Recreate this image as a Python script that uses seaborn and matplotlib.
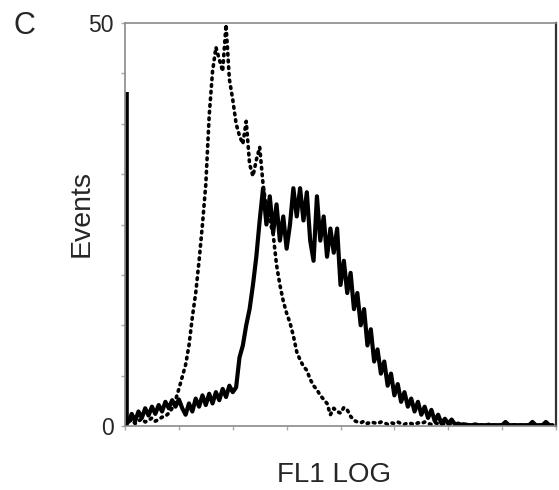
import matplotlib
matplotlib.use("Agg")
import matplotlib.pyplot as plt
import numpy as np
import pandas as pd
import seaborn as sns

# FL1 channel (log scale, 256 channels, every 2nd channel shown)
channels = list(range(0, 256, 2))

# Control histogram (dotted)
control = [0.0, 0.5, 0.8, 0.3, 0.6, 0.9, 0.5, 0.7, 1.0, 0.6, 0.8, 1.1,
           1.2, 1.6, 2.2, 3.2, 4.6, 6.1, 7.6, 10.0, 13.5, 16.5, 20.5, 25.0,
           30.0, 38.5, 44.0, 47.0, 45.5, 44.0, 49.8, 43.0, 40.5, 37.5, 36.0, 35.0,
           37.8, 32.5, 31.0, 33.0, 34.6, 30.0, 27.0, 25.5, 23.8, 20.0, 17.5, 15.5,
           14.0, 12.8, 11.2, 9.2, 8.2, 7.4, 6.9, 5.8, 5.0, 4.5, 3.8, 3.3,
           2.8, 1.4, 2.2, 1.8, 1.6, 2.3, 2.0, 1.2, 0.7, 0.5, 0.4, 0.6,
           0.3, 0.5, 0.4, 0.3, 0.5, 0.4, 0.2, 0.4, 0.3, 0.5, 0.3, 0.2,
           0.4, 0.3, 0.2, 0.4, 0.3, 0.5, 0.3, 0.2, 0.4, 0.3, 0.2, 0.3,
           0.2, 0.3, 0.2, 0.1, 0.2, 0.3, 0.1, 0.2, 0.1, 0.2, 0.1, 0.1,
           0.2, 0.1, 0.1, 0.2, 0.1, 0.1, 0.1, 0.2, 0.1, 0.1, 0.1, 0.1,
           0.1, 0.2, 0.1, 0.1, 0.1, 0.1, 0.2, 0.1]

# Stained histogram (solid); first channel holds the off-scale spike
stained = [41.4, 0.5, 1.5, 0.6, 1.8, 1.0, 2.2, 1.3, 2.4, 1.5, 2.6, 1.8,
           3.0, 2.2, 3.2, 2.4, 3.3, 2.2, 1.4, 2.8, 1.8, 3.4, 2.4, 3.8,
           2.6, 4.0, 2.8, 4.2, 3.2, 4.6, 3.6, 5.0, 4.2, 4.8, 8.5, 10.0,
           12.5, 14.5, 17.5, 21.0, 25.5, 29.5, 25.0, 28.5, 24.0, 27.5, 23.0, 26.0,
           22.0, 25.0, 29.5, 26.0, 29.5, 25.5, 29.0, 23.0, 20.5, 28.5, 23.0, 26.0,
           21.0, 24.5, 21.5, 24.5, 17.5, 20.5, 16.5, 19.0, 14.5, 16.5, 12.5, 14.5,
           10.0, 12.0, 8.0, 9.5, 6.5, 8.0, 5.0, 6.5, 3.8, 5.2, 3.0, 4.2,
           2.4, 3.4, 1.8, 3.0, 1.4, 2.4, 1.0, 2.0, 0.6, 1.4, 0.3, 0.9,
           0.3, 0.8, 0.2, 0.3, 0.1, 0.2, 0.1, 0.1, 0.2, 0.1, 0.1, 0.1,
           0.1, 0.1, 0.1, 0.1, 0.1, 0.5, 0.1, 0.1, 0.1, 0.1, 0.1, 0.1,
           0.1, 0.5, 0.1, 0.1, 0.1, 0.5, 0.1, 0.1]

y_ticks = [0, 6.25, 12.5, 18.75, 25, 31.25, 37.5, 43.75, 50]
y_tick_labels = ["0", "", "", "", "", "", "", "", "50"]
x_ticks = list(range(0, 257, 32))

sns.set_style("white")
plt.rcParams["font.family"] = ["Liberation Sans", "DejaVu Sans"]

df_c = pd.DataFrame({"channel": channels, "events": control})
df_s = pd.DataFrame({"channel": channels[1:], "events": stained[1:]})

fig = plt.figure(figsize=(5.59, 4.90), dpi=100)
ax = fig.add_axes([125 / 559, 64 / 490, 431 / 559, 403 / 490])

sns.lineplot(data=df_c, x="channel", y="events", ax=ax, color="black",
             linestyle=(0, (0.45, 1.4)), linewidth=2.6, dash_capstyle="round")
sns.lineplot(data=df_s, x="channel", y="events", ax=ax, color="black",
             linewidth=3.0)
# spike in the first channel
ax.vlines(channels[0] + 1.3, 0, stained[0], color="black", linewidth=2.6)

ax.set_xlim(0, 256)
ax.set_ylim(0, 50)
ax.set_yticks(y_ticks)
ax.set_yticklabels(y_tick_labels, fontsize=16.5)
ax.set_xticks(x_ticks)
ax.set_xticklabels([""] * len(x_ticks))
ax.tick_params(axis="both", direction="out", length=3, width=1,
               color="#aaaaaa", pad=5, left=True, bottom=True)

for side in ["left", "top", "bottom"]:
    ax.spines[side].set_color("#8a8a8a")
    ax.spines[side].set_linewidth(1.2)
ax.spines["right"].set_color("#333333")
ax.spines["right"].set_linewidth(1.6)

ax.set_ylabel("Events", fontsize=20.5)
ax.yaxis.set_label_coords(-0.07, 0.527)
ax.set_xlabel("FL1 LOG", fontsize=20)
ax.xaxis.set_label_coords(0.486, -0.089)

fig.text(24 / 559, 1 - 26 / 490, "C", fontsize=22, ha="center", va="center")

fig.savefig("out.png", dpi=100)
